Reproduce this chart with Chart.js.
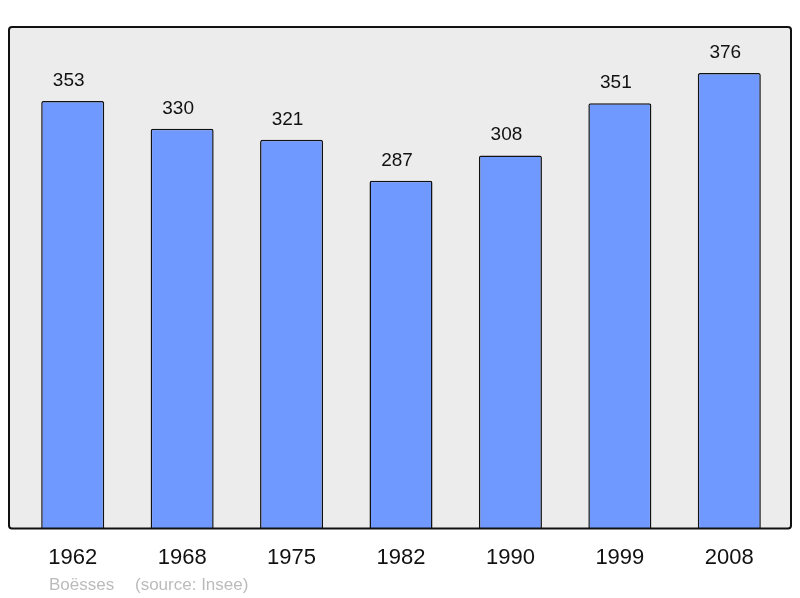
<!DOCTYPE html>
<html>
<head>
<meta charset="utf-8">
<script src="https://cdn.jsdelivr.net/npm/chart.js@4/dist/chart.umd.min.js"></script>
<style>
  html, body { margin: 0; padding: 0; background: #fff; }
  #wrap { width: 800px; height: 598px; }
</style>
</head>
<body>
<div id="wrap"><canvas id="chart"></canvas></div>
<script>
const years = ["1962", "1968", "1975", "1982", "1990", "1999", "2008"];
const population = [353, 330, 321, 287, 308, 351, 376];
const yMax = 414;
const place = "Boësses";
const source = "(source: Insee)";

// grey frame behind the bars
const framePlugin = {
  id: "frame",
  beforeDatasetsDraw(chart) {
    const { ctx, chartArea } = chart;
    const x = chartArea.left - 9, y = chartArea.top;
    const w = chartArea.right - chartArea.left + 16, h = chartArea.bottom - chartArea.top;
    ctx.save();
    ctx.beginPath();
    ctx.roundRect(x, y, w, h, 3);
    ctx.fillStyle = "#ececec";
    ctx.fill();
    ctx.restore();
  },
  afterDatasetsDraw(chart) {
    const { ctx, chartArea } = chart;
    const x = chartArea.left - 9, y = chartArea.top;
    const w = chartArea.right - chartArea.left + 16, h = chartArea.bottom - chartArea.top;
    ctx.save();
    ctx.beginPath();
    ctx.roundRect(x, y, w, h, 3);
    ctx.lineWidth = 2;
    ctx.strokeStyle = "#111";
    ctx.stroke();

    // values above bars (a bit left of centre, like the original)
    const meta = chart.getDatasetMeta(0);
    ctx.fillStyle = "#111";
    ctx.font = "19px 'Liberation Sans', Arial, sans-serif";
    ctx.textAlign = "center";
    ctx.textBaseline = "alphabetic";
    meta.data.forEach((bar, i) => {
      ctx.fillText(String(population[i]), bar.x - 4, bar.y - 15);
    });

    // footer
    ctx.fillStyle = "#bbbbbb";
    ctx.font = "17px 'Liberation Sans', Arial, sans-serif";
    ctx.textAlign = "left";
    ctx.fillText(place, 49, 590);
    ctx.fillText(source, 135, 590);
    ctx.restore();
  }
};

const ctx = document.getElementById("chart").getContext("2d");
new Chart(ctx, {
  type: "bar",
  data: {
    labels: years,
    datasets: [{
      data: population,
      backgroundColor: "#7099ff",
      borderColor: "#111",
      borderWidth: 1.5,
      borderRadius: 2,
      borderSkipped: "bottom",
      categoryPercentage: 1,
      barPercentage: 0.576
    }]
  },
  options: {
    responsive: true,
    maintainAspectRatio: false,
    animation: false,
    layout: { padding: { left: 18, right: 16, top: 27, bottom: 19 } },
    plugins: {
      legend: { display: false },
      tooltip: { enabled: false },
      title: { display: false }
    },
    scales: {
      x: {
        grid: { display: false },
        border: { display: false },
        ticks: {
          color: "#111",
          padding: 8,
          font: { size: 22, family: "'Liberation Sans', Arial, sans-serif" }
        }
      },
      y: {
        display: false,
        min: 0,
        max: yMax
      }
    }
  },
  plugins: [framePlugin]
});
</script>
</body>
</html>
